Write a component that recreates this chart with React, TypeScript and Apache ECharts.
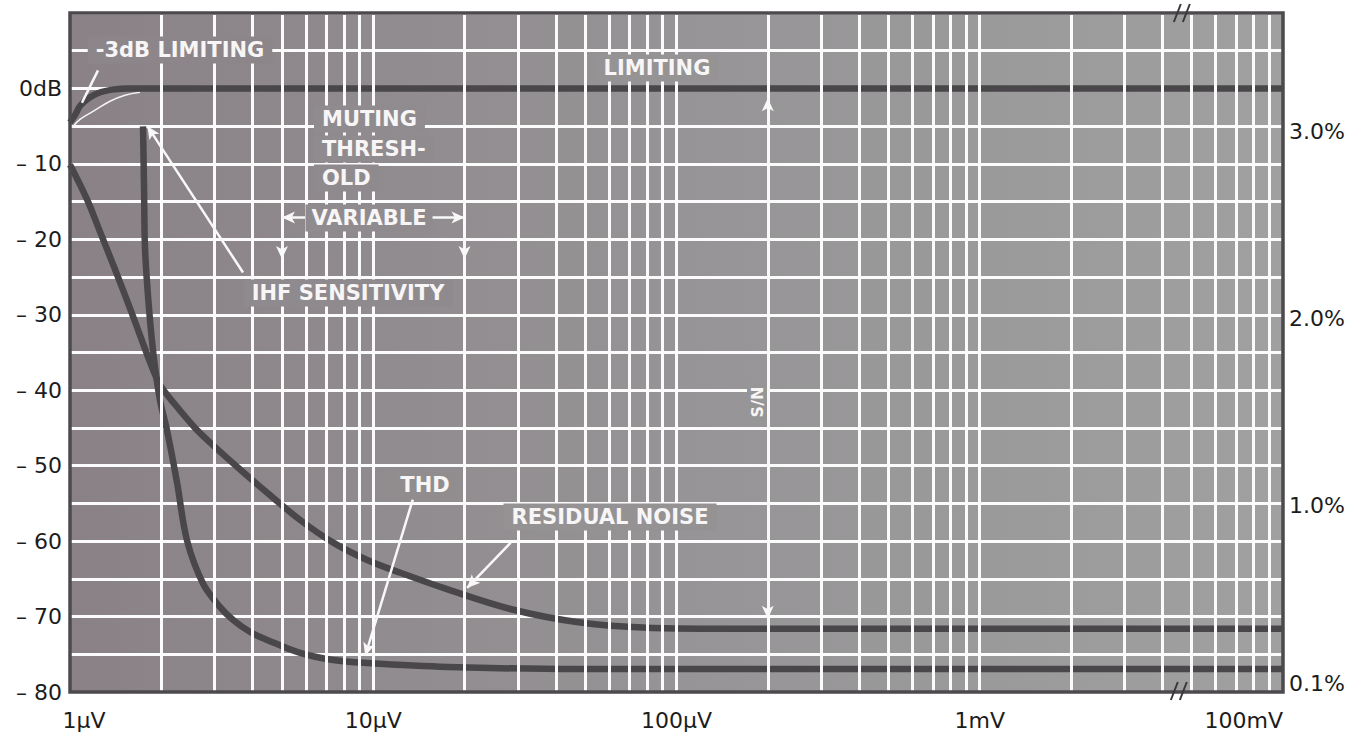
import React, { useEffect, useRef } from "react";
import * as echarts from "echarts";

// All x values are in microvolts (µV).
// ---------- axis ticks ----------
const xTickValuesUV = [1, 10, 100, 1000, 100000];
const xTickLabels = ["1\u00b5V", "10\u00b5V", "100\u00b5V", "1mV", "100mV"];
const dbTickValues = [-80, -70, -60, -50, -40, -30, -20, -10, 0];
const pctTickValues = [0.1, 1, 2, 3];
const pctTickLabels = ["0.1%", "1.0%", "2.0%", "3.0%"];

// axis break (µV): the decade 4.5 mV .. 45 mV is cut out
const breakStartUV = 4500;
const breakEndUV = 45000;

// vertical grid lines (µV)
const gridLinesUV = [
  2, 3, 4, 5, 6, 7, 8, 9, 10,
  20, 30, 40, 50, 60, 70, 80, 90, 100,
  200, 300, 400, 500, 600, 700, 800, 900, 1000,
  2000, 3000, 4000,
  50000, 60000, 70000, 80000, 90000,
];

// ---------- curves ----------
// Limiting (dB, left axis)
const limitingUV = [1, 1.04, 1.08, 1.16, 1.26, 1.4, 1.55, 100000];
const limitingDb = [-4.5, -3.5, -2.3, -1.2, -0.5, -0.12, 0, 0];

// Residual noise (dB, left axis)
const noiseUV = [1, 1.138, 1.256, 1.408, 1.614, 1.837, 1.982, 2.221, 2.585, 2.965, 3.64, 4.47, 5.74, 7.38, 9.55, 12.3, 17.6, 29.0, 48.2, 80.2, 120, 100000];
const noiseDb = [-10.1, -14.7, -19.0, -24.0, -30.2, -36.3, -39.3, -41.9, -45.0, -47.3, -50.5, -53.6, -57.2, -60.2, -62.5, -64.2, -66.4, -69.1, -70.8, -71.5, -71.6, -71.6];

// THD (%, right axis)
const thdUV = [1.741, 1.755, 1.768, 1.823, 1.893, 1.982, 2.09, 2.255, 2.433, 2.748, 3.126, 3.452, 3.93, 4.47, 5.74, 7.38, 9.55, 17.6, 48.2, 100000];
const thdPct = [3.03, 2.69, 2.37, 2.05, 1.78, 1.56, 1.4, 1.12, 0.81, 0.58, 0.455, 0.386, 0.321, 0.279, 0.209, 0.171, 0.155, 0.134, 0.123, 0.123];

// thin white -3 dB marker curve (dB, left axis)
const marker3dbUV = [1.015, 1.079, 1.191, 1.355, 1.518, 1.702];
const marker3dbDb = [-5.2, -4.1, -3.05, -1.7, -0.9, -0.5];

// ---------- annotation arrows (µV, dB) ----------
const arrowFromUV = [1.237, 3.72, 5, 5, 20, 13.5, 28.4, 200];
const arrowFromDb = [2.4, -24.4, -17.1, -18.8, -18.8, -54.5, -60.2, -1.3];
const arrowToUV = [1.095, 1.8, 20, 5, 20, 9.41, 20.4, 200];
const arrowToDb = [-1.9, -5.0, -17.1, -22.6, -22.6, -75.2, -66.2, -70.3];
const arrowStartHead = ["none", "none", "arrow", "none", "none", "none", "none", "arrow"];
const arrowEndHead = ["none", "arrow", "arrow", "arrow", "arrow", "arrow", "arrow", "arrow"];

const pairs = (xs: number[], ys: number[]) => xs.map((x, i) => [x, ys[i]]);

const FONT = "DejaVu Sans";
const CURVE = "#4a474b";
const GRIDW = "#fbfbfb";

const bgStops: [number, number[]][] = [
  [0, [137, 129, 134]],
  [0.25, [144, 139, 142]],
  [0.5, [150, 148, 150]],
  [0.75, [155, 154, 155]],
  [1, [160, 160, 160]],
];
const PLOT_L = 70;
const PLOT_W = 1213;
const toHex = (c: number[]) => "#" + c.map((v) => Math.round(v).toString(16).padStart(2, "0")).join("");
const bgAt = (x: number) => {
  const f = Math.min(1, Math.max(0, (x - PLOT_L) / PLOT_W));
  for (let i = 0; i < bgStops.length - 1; i++) {
    const [a, ca] = bgStops[i];
    const [b, cb] = bgStops[i + 1];
    if (f >= a && f <= b) {
      const t = (f - a) / (b - a);
      return toHex(ca.map((v, k) => v + (cb[k] - v) * t));
    }
  }
  return toHex(bgStops[bgStops.length - 1][1]);
};

const annoText = (text: string, x: number, y: number, opts: any = {}) => ({
  type: "text",
  x,
  y,
  z: 50,
  rotation: opts.rotation || 0,
  style: {
    text,
    x: 0,
    y: 0,
    align: opts.align || "center",
    verticalAlign: "middle",
    fill: "#f7f5f6",
    fontSize: opts.size || 21,
    fontWeight: opts.weight || "bold",
    fontFamily: FONT,
    backgroundColor: bgAt(x + (opts.dx || 0)),
    padding: opts.padding || [3, 8],
  },
});

export default function App() {
  const ref = useRef<HTMLDivElement>(null);

  useEffect(() => {
    document.body.style.margin = "0";
    const chart = echarts.init(ref.current!, null, { renderer: "svg" });

    const arrowLines = arrowFromUV.map((_, i) => [
      { coord: [arrowFromUV[i], arrowFromDb[i]], symbol: arrowStartHead[i] },
      { coord: [arrowToUV[i], arrowToDb[i]], symbol: arrowEndHead[i] },
    ]);

    const option: any = {
      animation: false,
      backgroundColor: "#ffffff",
      grid: {
        left: 70,
        right: 78,
        top: 13,
        bottom: 46,
        show: true,
        borderWidth: 0,
        backgroundColor: {
          type: "linear",
          x: 0,
          y: 0,
          x2: 1,
          y2: 0,
          colorStops: bgStops.map(([o, c]) => ({ offset: o, color: toHex(c) })),
        },
      },
      xAxis: {
        type: "log",
        logBase: 10,
        min: 1,
        max: 100000,
        breaks: [{ start: breakStartUV, end: breakEndUV, gap: 0 }],
        breakArea: {
          show: false,
          zigzagAmplitude: 0,
          itemStyle: { color: "rgba(0,0,0,0)", borderColor: "rgba(0,0,0,0)", borderWidth: 0, opacity: 0 },
        },
        axisLine: { show: false },
        axisTick: { show: false },
        splitLine: { show: false },
        minorTick: { show: false },
        minorSplitLine: { show: false },
        axisLabel: {
          customValues: xTickValuesUV,
          color: "#1c1c1c",
          fontFamily: FONT,
          fontSize: 22,
          margin: 17,
          alignMaxLabel: "right",
          formatter: (v: number) => {
            const i = xTickValuesUV.findIndex((t) => Math.abs(Math.log10(t) - Math.log10(v)) < 0.01);
            if (i < 0) return "";
            return i === 0 ? `{first|${xTickLabels[i]}}` : xTickLabels[i];
          },
          rich: { first: { padding: [0, 0, 0, 28], fontSize: 22, fontFamily: FONT, color: "#1c1c1c" } },
        },
      },
      yAxis: [
        {
          type: "value",
          min: -80,
          max: 10,
          interval: 5,
          position: "left",
          axisLine: { show: false },
          axisTick: { show: false },
          splitLine: { show: true, lineStyle: { color: GRIDW, width: 3 } },
          axisLabel: {
            customValues: dbTickValues,
            color: "#1c1c1c",
            fontFamily: FONT,
            fontSize: 22,
            margin: 8,
            formatter: (v: number) => (v === 0 ? "0dB" : `\u2013 ${Math.abs(v)}`),
          },
        },
        {
          type: "value",
          min: 0,
          max: 3.637,
          position: "right",
          axisLine: { show: false },
          axisTick: { show: false },
          splitLine: { show: false },
          axisLabel: {
            customValues: pctTickValues,
            color: "#1c1c1c",
            fontFamily: FONT,
            fontSize: 22,
            margin: 6,
            formatter: (v: number) => {
              const i = pctTickValues.findIndex((t) => Math.abs(t - v) < 1e-6);
              if (i < 0) return "";
              return i === 0 ? `{low|${pctTickLabels[i]}}` : pctTickLabels[i];
            },
            rich: { low: { padding: [20, 0, 0, 0], fontSize: 22, fontFamily: FONT, color: "#1c1c1c" } },
          },
        },
      ],
      series: [
        {
          name: "grid",
          type: "line",
          data: [],
          z: 1,
          silent: true,
          markLine: {
            silent: true,
            symbol: ["none", "none"],
            label: { show: false },
            lineStyle: { color: GRIDW, width: 3, type: "solid" },
            data: gridLinesUV.map((u) => [{ coord: [u, -80] }, { coord: [u, 10] }]),
          },
        },
        {
          name: "annotations",
          type: "line",
          data: [],
          z: 3,
          silent: true,
          markLine: {
            silent: true,
            symbolSize: [9, 13],
            label: { show: false },
            lineStyle: { color: "#f8f8f8", width: 2.5, type: "solid" },
            data: arrowLines,
          },
        },
        {
          name: "-3dB marker",
          type: "line",
          data: pairs(marker3dbUV, marker3dbDb),
          smooth: 0.4,
          showSymbol: false,
          z: 3,
          lineStyle: { color: "#f4f4f4", width: 1.5 },
        },
        {
          name: "LIMITING",
          type: "line",
          data: pairs(limitingUV, limitingDb),
          smooth: 0.35,
          showSymbol: false,
          z: 4,
          lineStyle: { color: CURVE, width: 6.5 },
        },
        {
          name: "RESIDUAL NOISE",
          type: "line",
          data: pairs(noiseUV, noiseDb),
          smooth: 0.35,
          showSymbol: false,
          z: 4,
          lineStyle: { color: CURVE, width: 6.5 },
        },
        {
          name: "THD",
          type: "line",
          yAxisIndex: 1,
          data: pairs(thdUV, thdPct),
          smooth: 0.35,
          showSymbol: false,
          z: 4,
          lineStyle: { color: CURVE, width: 6.5 },
        },
      ],
    };

    chart.setOption(option);

    const bxRaw = chart.convertToPixel({ xAxisIndex: 0 } as any, breakStartUV) as any;
    const bx = (typeof bxRaw === "number" && isFinite(bxRaw) ? bxRaw : 1178) + 4;

    const breakMark = (cx: number, cy: number) => [
      { type: "line", z: 70, shape: { x1: cx - 8, y1: cy + 9, x2: cx - 1, y2: cy - 9 }, style: { stroke: "#3a383a", lineWidth: 2 } },
      { type: "line", z: 70, shape: { x1: cx + 1, y1: cy + 9, x2: cx + 8, y2: cy - 9 }, style: { stroke: "#3a383a", lineWidth: 2 } },
    ];

    chart.setOption({
      graphic: [
        {
          type: "rect",
          z: 60,
          silent: true,
          shape: { x: 70, y: 13, width: 1213, height: 679 },
          style: { fill: "none", stroke: "#4d4a4d", lineWidth: 3.5 },
        },
        ...breakMark(bx, 13),
        ...breakMark(bx - 3, 691),
        annoText("-3dB LIMITING", 180, 50),
        annoText("LIMITING", 657, 68),
        annoText("MUTING", 314, 119, { align: "left", dx: 50 }),
        annoText("THRESH-", 314, 149, { align: "left", dx: 50 }),
        annoText("OLD", 314, 178, { align: "left", dx: 25 }),
        annoText("VARIABLE", 369, 218, { padding: [3, 6] }),
        annoText("IHF SENSITIVITY", 348, 293),
        annoText("THD", 425, 485),
        annoText("RESIDUAL NOISE", 610, 517),
        annoText("S/N", 757, 402, { rotation: Math.PI / 2, size: 16, padding: [2, 6] }),
      ],
    });

    return () => chart.dispose();
  }, []);

  return <div ref={ref} style={{ width: 1361, height: 738 }} />;
}
